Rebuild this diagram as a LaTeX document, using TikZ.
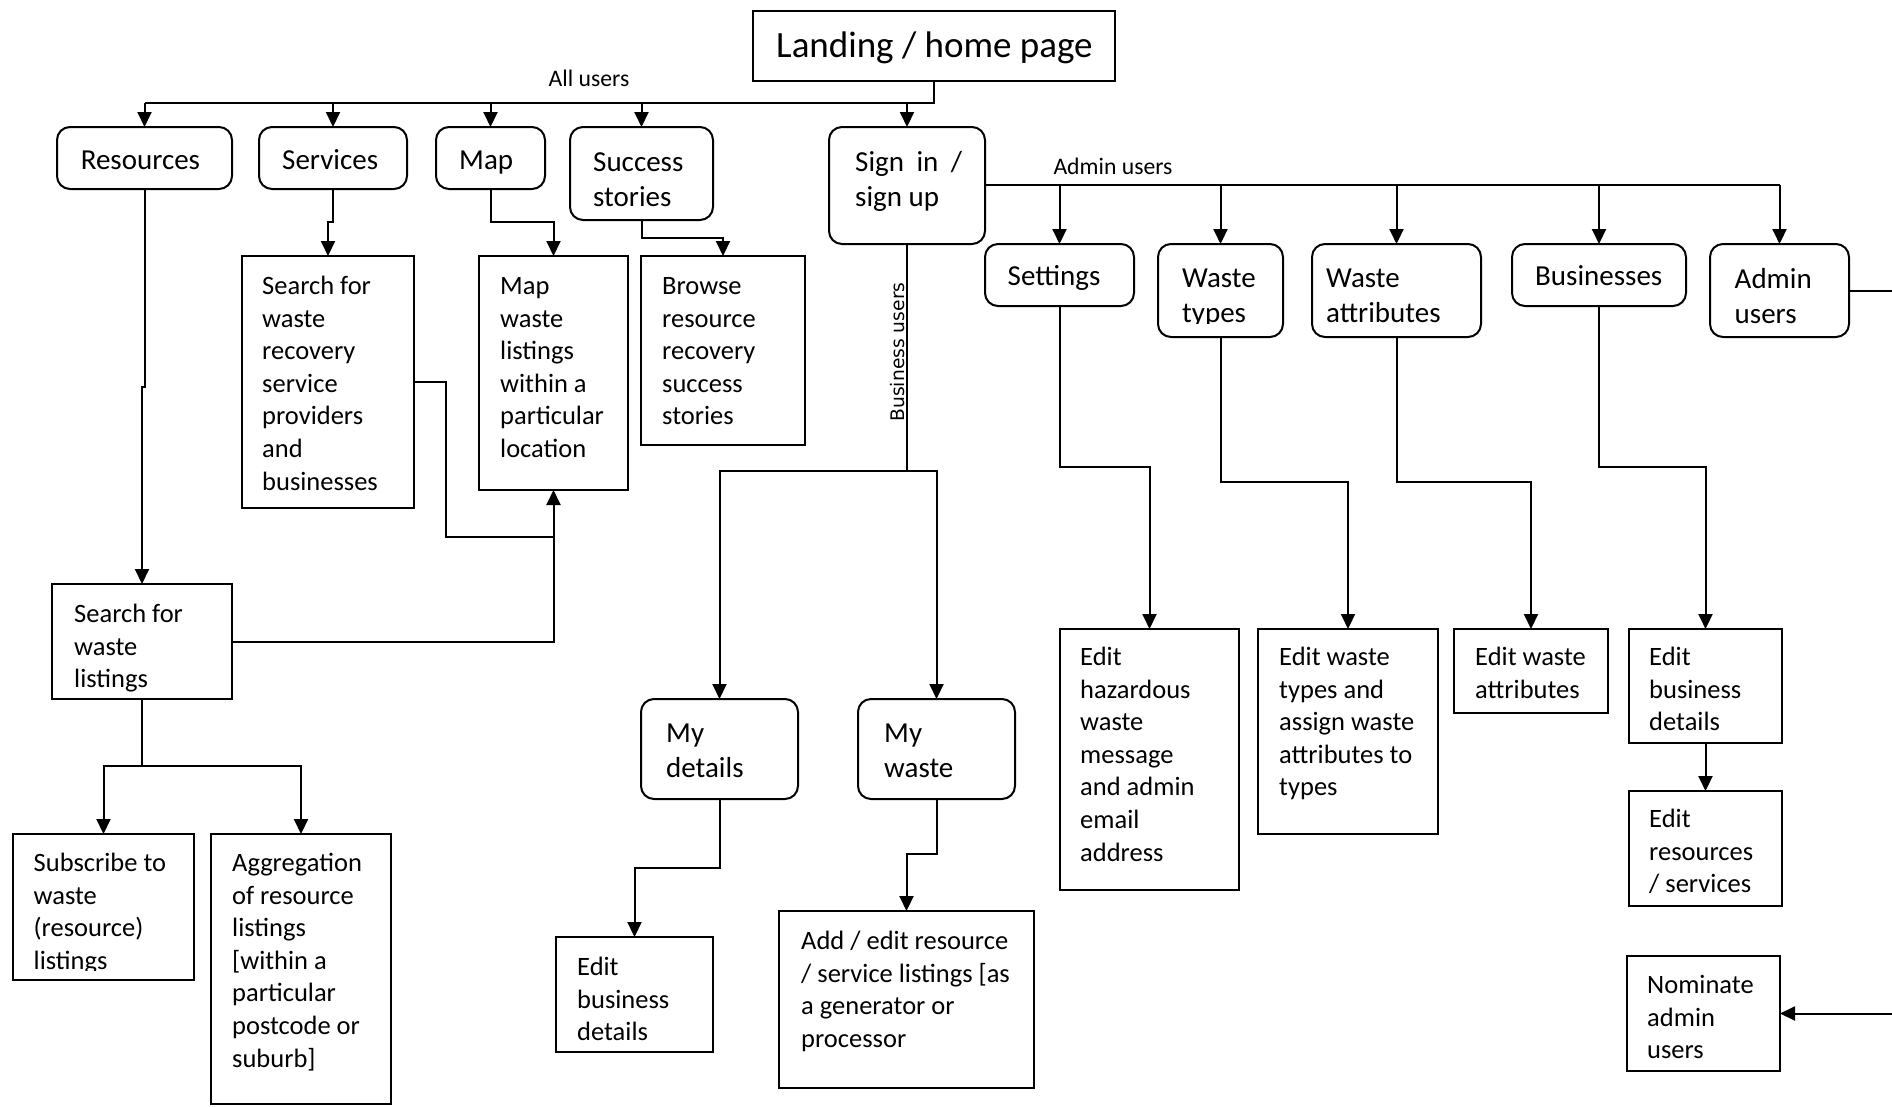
\documentclass[tikz,border=0pt]{standalone}
\usepackage{fontspec}
\setmainfont{Carlito}
\newfontfamily\dejavu{DejaVu Sans}
\usetikzlibrary{arrows.meta}
\newcommand{\mlines}[1]{\begin{tabular}[t]{@{}l@{}}#1\end{tabular}}
\tikzset{
 sq/.style={draw, line width=2pt, inner sep=0pt, outer sep=0pt},
 rd/.style={sq, rounded corners=13pt},
 btxt/.style={anchor=base west, inner sep=0pt, yshift=-2.5pt, font=\fontsize{26.5}{32.6}\selectfont},
 rtxt/.style={anchor=base west, inner sep=0pt, yshift=-2pt, font=\fontsize{29}{35}\selectfont},
 ln/.style={line width=2pt},
 arr/.style={line width=2pt, -{Triangle[length=15pt,width=14pt]}},
 lbl/.style={font=\fontsize{23.7}{28}\selectfont, anchor=base, inner sep=0pt},
}
\begin{document}
\begin{tikzpicture}[x=1pt,y=-1pt]
\fill[white] (0,0) rectangle (1892,1106);
\useasboundingbox (0,0) rectangle (1892,1106);

% ---------- boxes ----------
\node[sq, minimum width=362pt, minimum height=70pt] (land) at (934,46) {};
\node[rd, minimum width=175pt, minimum height=62pt] (res) at (144.5,158) {};
\node[rd, minimum width=148pt, minimum height=62pt] (serv) at (333,158) {};
\node[rd, minimum width=109pt, minimum height=62pt] (map) at (490.5,158) {};
\node[rd, minimum width=143pt, minimum height=93pt] (succ) at (641.5,173.5) {};
\node[rd, minimum width=156pt, minimum height=117pt] (sign) at (907,185.5) {};
\node[sq, minimum width=172pt, minimum height=252pt] (srchserv) at (328,382) {};
\node[sq, minimum width=149pt, minimum height=234pt] (mapw) at (553.5,373) {};
\node[sq, minimum width=164pt, minimum height=189pt] (browse) at (723,350.5) {};
\node[sq, minimum width=180pt, minimum height=115pt] (srchw) at (142,641.5) {};
\node[sq, minimum width=181pt, minimum height=146pt] (subs) at (103.5,907) {};
\node[sq, minimum width=180pt, minimum height=270pt] (aggr) at (301,969) {};
\node[rd, minimum width=157pt, minimum height=100pt] (mydet) at (719.5,749) {};
\node[rd, minimum width=157pt, minimum height=100pt] (mywaste) at (936.5,749) {};
\node[sq, minimum width=157pt, minimum height=115pt] (editbd) at (634.5,994.5) {};
\node[sq, minimum width=255pt, minimum height=177pt] (addedit) at (906.5,999.5) {};
\node[rd, minimum width=149pt, minimum height=62pt] (settings) at (1059.5,275) {};
\node[rd, minimum width=125pt, minimum height=93pt] (wtypes) at (1220.5,290.5) {};
\node[rd, minimum width=169pt, minimum height=93pt] (wattr) at (1396.5,290.5) {};
\node[rd, minimum width=174pt, minimum height=62pt] (busi) at (1599,275) {};
\node[rd, minimum width=139pt, minimum height=93pt] (adminu) at (1779.5,290.5) {};
\node[sq, minimum width=179pt, minimum height=261pt] (edithaz) at (1149.5,759.5) {};
\node[sq, minimum width=180pt, minimum height=205pt] (editwt) at (1348,731.5) {};
\node[sq, minimum width=154pt, minimum height=84pt] (editwa) at (1531,671) {};
\node[sq, minimum width=153pt, minimum height=114pt] (editbd2) at (1705.5,686) {};
\node[sq, minimum width=153pt, minimum height=115pt] (editrs) at (1705.5,848.5) {};
\node[sq, minimum width=153pt, minimum height=115pt] (nominate) at (1703.5,1013.5) {};

% ---------- texts ----------
\node[anchor=base west, inner sep=0pt, yshift=-2pt, font=\fontsize{37}{44}\selectfont] (land-t) at (776,55) {Landing / home page};
\node[rtxt] (res-t) at (80.6,167) {Resources};
\node[rtxt] (serv-t) at (282,167) {Services};
\node[rtxt] (map-t) at (459,167) {Map};
\node[rtxt] (succ-t) at (593,169) {\mlines{Success\\stories}};
\node[rtxt] (sign-t) at (855,169) {\mlines{Sign\hspace{6pt} in\hspace{6pt} /\\sign up}};
\node[btxt] (srchserv-t) at (262,292) {\mlines{Search for\\waste\\recovery\\service\\providers\\and\\businesses}};
\node[btxt] (mapw-t) at (500,292) {\mlines{Map\\waste\\listings\\within a\\particular\\location}};
\node[btxt] (browse-t) at (662,292) {\mlines{Browse\\resource\\recovery\\success\\stories}};
\node[btxt] (srchw-t) at (74,620) {\mlines{Search for\\waste\\listings}};
\begin{scope}
\clip (13,834) rectangle (194,970);
\node[btxt] (subs-t) at (33.5,869) {\mlines{Subscribe to\\waste\\(resource)\\listings}};
\end{scope}
\node[btxt] (aggr-t) at (232,869) {\mlines{Aggregation\\of resource\\listings\\{[}within a\\particular\\postcode or\\suburb]}};
\node[rtxt] (mydet-t) at (666,740) {\mlines{My\\details}};
\node[rtxt] (mywaste-t) at (884,740) {\mlines{My\\waste}};
\node[btxt] (editbd-t) at (577,973) {\mlines{Edit\\business\\details}};
\node[btxt] (addedit-t) at (801,947) {\mlines{Add / edit resource\\/ service listings [as\\a generator or\\processor}};
\node[rtxt] (settings-t) at (1007.5,283) {Settings};
\begin{scope}
\clip (1158,244) rectangle (1283,323.5);
\node[rtxt] (wtypes-t) at (1182,285) {\mlines{Waste\\types}};
\end{scope}
\node[rtxt] (wattr-t) at (1326,285) {\mlines{Waste\\attributes}};
\node[rtxt] (busi-t) at (1535,283) {Businesses};
\node[rtxt] (adminu-t) at (1734.5,286) {\mlines{Admin\\users}};
\node[btxt] (edithaz-t) at (1080,663) {\mlines{Edit\\hazardous\\waste\\message\\and admin\\email\\address}};
\node[btxt] (editwt-t) at (1279,663) {\mlines{Edit waste\\types and\\assign waste\\attributes to\\types}};
\node[btxt] (editwa-t) at (1475,663) {\mlines{Edit waste\\attributes}};
\node[btxt] (editbd2-t) at (1649,663) {\mlines{Edit\\business\\details}};
\node[btxt] (editrs-t) at (1649,825) {\mlines{Edit\\resources\\/ services}};
\node[btxt] (nominate-t) at (1647,991) {\mlines{Nominate\\admin\\users}};

% ---------- connectors ----------
\coordinate (allbus) at (0,103);
\draw[line width=2.6pt] (land.south) -- (land.south |- allbus) -- (res.north |- allbus);
\foreach \n in {res,serv,map,succ,sign} \draw[arr] (\n.north |- allbus) -- (\n.north);
\node[lbl] (allusers) at (589,86) {All users};

\coordinate (admbus) at (0,185);
\draw[ln] (sign.east |- admbus) -- (adminu.north |- admbus);
\foreach \n in {settings,wtypes,wattr,busi,adminu} \draw[arr] (\n.north |- admbus) -- (\n.north);
\node[lbl] (adminlbl) at (1113,174) {Admin users};

\draw[arr] (settings.south) -- (settings.south |- 0,467) -| (edithaz.north);
\draw[arr] (wtypes.south) -- (wtypes.south |- 0,482) -| (editwt.north);
\draw[arr] (wattr.south) -- (wattr.south |- 0,482) -| (editwa.north);
\draw[arr] (busi.south) -- (busi.south |- 0,467) -| (editbd2.north);
\draw[arr] (editbd2.south) -- (editrs.north);
\coordinate (adminend) at (1892,290.5);
\draw[ln] (adminu.east) -- (adminend);
\coordinate (nomstart) at (1892,1013.5);
\draw[arr] (nomstart) -- (nominate.east);

\draw[arr] (serv.south) -- ++(0,33) -| (srchserv.north);
\draw[arr] (map.south) -- ++(0,33) -| (mapw.north);
\draw[arr] (succ.south) -- ++(0,18) -| (browse.north);
\draw[arr] (res.south) -- ++(0,198) -| (srchw.north);
\coordinate (mj) at (553.5,537);
\draw[ln] (srchserv.east) -| (446,537) -- (mj);
\draw[arr] (srchw.east) -| (mapw.south);

\coordinate (sb) at (0,766);
\draw[ln] (srchw.south) -- (srchw.south |- sb);
\draw[arr] (srchw.south |- sb) -| (subs.north);
\draw[arr] (srchw.south |- sb) -| (aggr.north);

\coordinate (bb) at (0,471);
\draw[ln] (sign.south) -- (sign.south |- bb);
\node[font=\dejavu\fontsize{18.7}{22}\selectfont, rotate=90, anchor=base, inner sep=0pt] (buslbl) at (904,352) {Business users};
\draw[arr] (sign.south |- bb) -| (mydet.north);
\draw[arr] (sign.south |- bb) -| (mywaste.north);
\draw[arr] (mydet.south) -- ++(0,69) -| (editbd.north);
\draw[arr] (mywaste.south) -- ++(0,55) -| (addedit.north);
\end{tikzpicture}
\end{document}
